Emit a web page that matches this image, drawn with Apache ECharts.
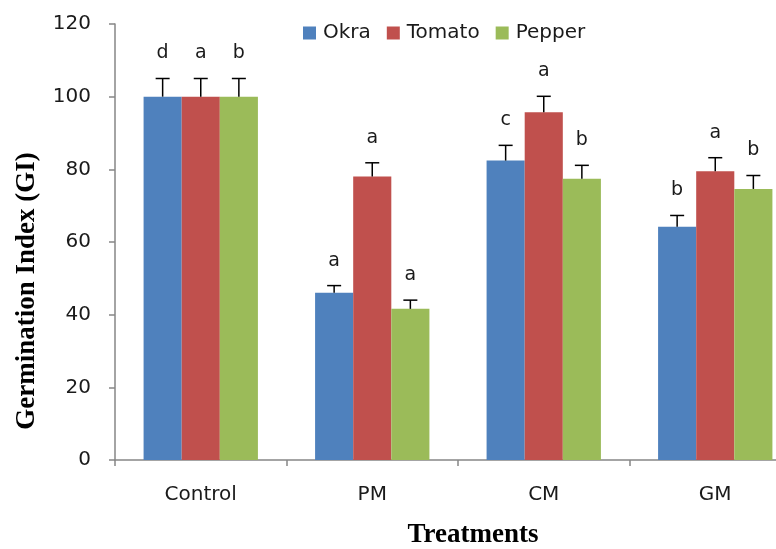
<!DOCTYPE html>
<html>
<head>
<meta charset="utf-8">
<script src="https://cdn.jsdelivr.net/npm/echarts@6/dist/echarts.min.js"></script>
<style>html,body{margin:0;padding:0;background:#fff;width:776px;height:549px;overflow:hidden;}#c{width:810px;height:549px;}</style>
</head>
<body>
<div id="c"></div>
<script>
const categories = ['Control', 'PM', 'CM', 'GM'];
const seriesNames = ['Okra', 'Tomato', 'Pepper'];
const okra = [100, 46.0, 82.4, 64.2];
const tomato = [100, 78.0, 95.7, 79.5];
const pepper = [100, 41.6, 77.4, 74.6];
const okraErr = [5.0, 2.0, 4.2, 3.1];
const tomatoErr = [5.0, 3.8, 4.4, 3.7];
const pepperErr = [5.0, 2.4, 3.7, 3.7];
const okraLetters = ['d', 'a', 'c', 'b'];
const tomatoLetters = ['a', 'a', 'a', 'a'];
const pepperLetters = ['b', 'a', 'b', 'b'];
const yTicks = { min: 0, max: 120, interval: 20 };

const colors = ['#4F81BD', '#C0504D', '#9BBB59'];
const values = [okra, tomato, pepper];
const errs = [okraErr, tomatoErr, pepperErr];
const letters = [okraLetters, tomatoLetters, pepperLetters];
const GAP = 1 / 3;

const chart = echarts.init(document.getElementById('c'), null, { renderer: 'canvas' });

const barSeries = seriesNames.map((n, i) => ({
  name: n,
  type: 'bar',
  data: values[i],
  barGap: '0%',
  barCategoryGap: (GAP * 100) + '%',
  itemStyle: { color: colors[i] },
  z: 2
}));

const errSeries = seriesNames.map((n, i) => ({
  type: 'custom',
  name: n + ' err',
  data: categories.map((c, k) => [k, values[i][k], errs[i][k], letters[i][k]]),
  z: 5,
  silent: true,
  clip: false,
  renderItem: function (params, api) {
    const k = api.value(0);
    const v = api.value(1);
    const e = api.value(2);
    const band = api.size([1, 0])[0];
    const bw = band * (1 - GAP) / 3;
    const base = api.coord([k, v]);
    const top = api.coord([k, v + e]);
    const x = base[0] + (i - 1) * bw;
    const cap = 7;
    return {
      type: 'group',
      children: [
        { type: 'line', shape: { x1: x, y1: base[1], x2: x, y2: top[1] }, style: { stroke: '#000', lineWidth: 1.5 } },
        { type: 'line', shape: { x1: x - cap, y1: top[1], x2: x + cap, y2: top[1] }, style: { stroke: '#000', lineWidth: 1.5 } },
        { type: 'text', x: x, y: top[1] - 25, style: { text: letters[i][k], fill: '#1a1a1a', font: '19px "DejaVu Sans"', align: 'center', verticalAlign: 'middle' } }
      ]
    };
  }
}));

chart.setOption({
  animation: false,
  backgroundColor: '#fff',
  grid: { left: 115, right: 9, top: 24, bottom: 89, containLabel: false },
  legend: {
    data: seriesNames,
    left: 298, top: 18,
    itemWidth: 13, itemHeight: 13, itemGap: 16,
    icon: 'rect',
    textStyle: { fontFamily: 'DejaVu Sans', fontSize: 20, color: '#1a1a1a', padding: [0, 0, 0, 2] }
  },
  xAxis: {
    type: 'category',
    data: categories,
    axisLine: { lineStyle: { color: '#868686', width: 1.5 } },
    axisTick: { show: true, length: 6, lineStyle: { color: '#868686', width: 1.5 } },
    axisLabel: { fontFamily: 'DejaVu Sans', fontSize: 20, color: '#1a1a1a', margin: 25 }
  },
  yAxis: {
    type: 'value',
    min: yTicks.min, max: yTicks.max, interval: yTicks.interval,
    splitLine: { show: false },
    axisLine: { show: true, lineStyle: { color: '#868686', width: 1.5 } },
    axisTick: { show: true, length: 6, lineStyle: { color: '#868686', width: 1.5 } },
    axisLabel: { fontFamily: 'DejaVu Sans', fontSize: 20, color: '#1a1a1a', margin: 24 }
  },
  graphic: [
    { type: 'text', x: 27, y: 291, rotation: Math.PI / 2, style: { text: 'Germination Index (GI)', font: 'bold 27px "Liberation Serif"', fill: '#000', align: 'center', verticalAlign: 'middle' } },
    { type: 'text', x: 473, y: 535, style: { text: 'Treatments', font: 'bold 27px "Liberation Serif"', fill: '#000', align: 'center', verticalAlign: 'middle' } }
  ],
  series: barSeries.concat(errSeries)
});
</script>
</body>
</html>
